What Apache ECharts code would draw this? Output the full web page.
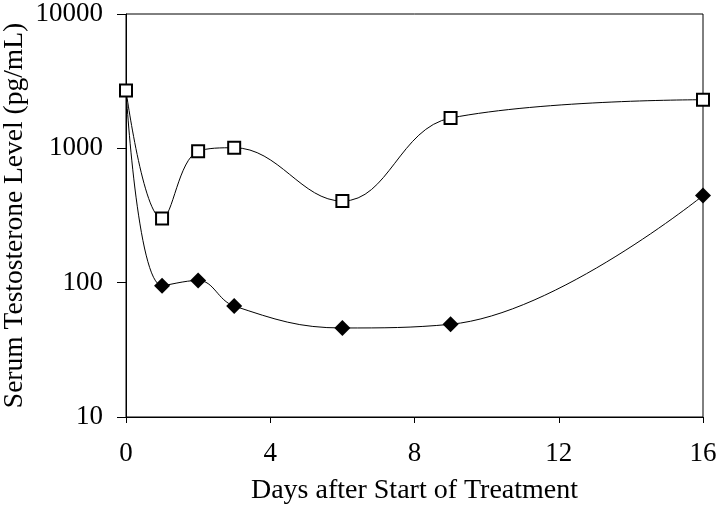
<!DOCTYPE html>
<html>
<head>
<meta charset="utf-8">
<script src="https://cdn.jsdelivr.net/npm/echarts@6/dist/echarts.min.js"></script>
<style>html,body{margin:0;padding:0;background:#fff}#c{width:720px;height:510px}</style>
</head>
<body>
<div id="c"></div>
<script>
var days = [0, 1, 2, 3, 6, 9, 16];
var openSquareValues = [2700, 300, 950, 1010, 405, 1680, 2300];
var filledDiamondValues = [2700, 95, 104, 67, 46, 49, 445];
var xTicks = [0, 4, 8, 12, 16];
var yTicks = [10, 100, 1000, 10000];
var xTitle = 'Days after Start of Treatment';
var yTitle = 'Serum Testosterone Level (pg/mL)';

var FONT = '"Liberation Serif", "Times New Roman", serif';
var chart = echarts.init(document.getElementById('c'));

function pairs(vals, hideFirst) {
  return days.map(function (d, i) {
    var item = { value: [d, vals[i]] };
    if (hideFirst && i === 0) { item.symbol = 'none'; }
    return item;
  });
}

chart.setOption({
  backgroundColor: '#fff',
  animation: false,
  grid: { left: 126, right: 17, top: 14, bottom: 93, containLabel: false, outerBoundsMode: 'none',
    show: true, borderColor: '#000', borderWidth: 1 },
  xAxis: {
    type: 'value', min: 0, max: 16, interval: 4,
    name: xTitle, nameLocation: 'middle', nameGap: 60, nameMoveOverlap: false,
    nameTextStyle: { fontFamily: FONT, fontSize: 28, color: '#000' },
    axisLine: { show: true, onZero: false, lineStyle: { color: '#000', width: 1 } },
    axisTick: { show: true, inside: false, length: 6, lineStyle: { color: '#000' } },
    axisLabel: { fontFamily: FONT, fontSize: 27, color: '#000', margin: 23,
      formatter: function (v) { return xTicks.indexOf(v) >= 0 ? String(v) : ''; } },
    splitLine: { show: false }
  },
  yAxis: {
    type: 'log', logBase: 10, min: yTicks[0], max: yTicks[yTicks.length - 1],
    name: yTitle, nameLocation: 'middle', nameGap: 97, nameRotate: 90, nameMoveOverlap: false,
    nameTextStyle: { fontFamily: FONT, fontSize: 27.5, color: '#000' },
    axisLine: { show: true, lineStyle: { color: '#000', width: 1 } },
    axisTick: { show: true, inside: false, length: 9, lineStyle: { color: '#000' } },
    minorTick: { show: false },
    axisLabel: { fontFamily: FONT, fontSize: 27, color: '#000', margin: 23,
      formatter: function (v) { return String(Math.round(v)); } },
    splitLine: { show: false }
  },
  series: [
    {
      name: 'filled', type: 'line', smooth: 0.4, smoothConstraint: false, z: 2,
      data: pairs(filledDiamondValues, true),
      symbol: 'diamond', symbolSize: [16, 16],
      itemStyle: { color: '#000', borderColor: '#000', borderWidth: 0 },
      lineStyle: { color: '#000', width: 1 }
    },
    {
      name: 'open', type: 'line', smooth: 0.4, smoothConstraint: false, z: 3,
      data: pairs(openSquareValues, false),
      symbol: 'rect', symbolSize: 12,
      itemStyle: { color: '#fff', borderColor: '#000', borderWidth: 2 },
      lineStyle: { color: '#000', width: 1 }
    }
  ]
});
</script>
</body>
</html>
